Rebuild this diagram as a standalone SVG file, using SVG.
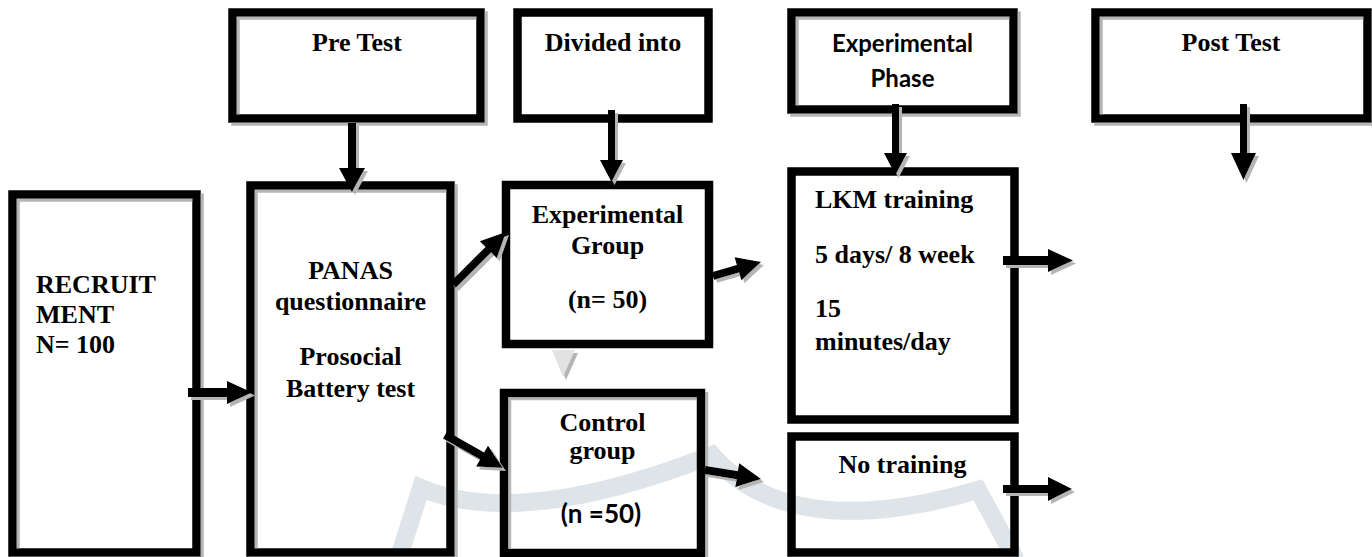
<svg xmlns="http://www.w3.org/2000/svg" width="1372" height="557" viewBox="0 0 1372 557">
<style>
.box{fill:none;stroke:#000;stroke-width:8.5;stroke-linejoin:miter}
.t{font-family:"Liberation Serif","Times New Roman",serif;font-weight:bold;font-size:26px;fill:#000}
.s{font-family:Lato,"Open Sans",sans-serif;font-weight:bold;font-size:24px;fill:#000}
.m{text-anchor:middle}
.arr{fill:#000}
.wm{fill:none;stroke:#dee4e7;stroke-width:18;stroke-linejoin:miter}
</style>
<defs>
<filter id="sh" filterUnits="userSpaceOnUse" x="0" y="0" width="1372" height="557">
<feDropShadow dx="3" dy="3" stdDeviation="0" flood-color="#b5b5b5" flood-opacity="1"/>
</filter>
</defs>
<rect width="1372" height="557" fill="#fff"/>
<path class="wm" d="M398,560 L421,488 Q520,530 712,455 Q790,545 978,490 L1016,560"/>

<g id="recruit">
<rect class="box" x="12.5" y="194.5" width="184" height="358" filter="url(#sh)"/>
<text class="t" x="36" y="293">RECRUIT</text>
<text class="t" x="36" y="323">MENT</text>
<text class="t" x="36" y="353">N= 100</text>
</g>
<g id="panas">
<rect class="box" x="250.5" y="185.5" width="200" height="367" filter="url(#sh)"/>
<text class="t m" x="350.5" y="279">PANAS</text>
<text class="t m" x="350.5" y="310">questionnaire</text>
<text class="t m" x="350.5" y="365">Prosocial</text>
<text class="t m" x="350.5" y="397">Battery test</text>
</g>
<g id="pretest">
<rect class="box" x="232.5" y="12.5" width="248" height="106" filter="url(#sh)"/>
<text class="t m" x="357" y="51">Pre Test</text>
</g>
<g id="divided">
<rect class="box" x="517.5" y="12.5" width="191" height="106"/>
<text class="t m" x="613" y="51">Divided into</text>
</g>
<g id="expphase">
<rect class="box" x="791.5" y="12.5" width="222" height="97" filter="url(#sh)"/>
<text class="s m" x="902.5" y="52">Experimental</text>
<text class="s m" x="902.5" y="87">Phase</text>
</g>
<g id="posttest">
<rect class="box" x="1095.5" y="12.5" width="272" height="106" filter="url(#sh)"/>
<text class="t m" x="1231" y="51">Post Test</text>
</g>
<g id="expgroup">
<rect class="box" x="506" y="185" width="203" height="159"/>
<text class="t m" x="607.5" y="223">Experimental</text>
<text class="t m" x="607.5" y="254">Group</text>
<text class="t m" x="607.5" y="308">(n= 50)</text>
</g>
<g id="control">
<rect class="box" x="504" y="393" width="197" height="160" filter="url(#sh)"/>
<text class="t m" x="602.5" y="431">Control</text>
<text class="t m" x="602.5" y="459">group</text>
<text class="s m" x="601" y="523" style="font-size:26px">(n =50)</text>
</g>
<g id="lkm">
<rect class="box" x="791.5" y="171.5" width="223" height="248"/>
<text class="t" x="815" y="208">LKM training</text>
<text class="t" x="815" y="263">5 days/ 8 week</text>
<text class="t" x="815" y="317">15</text>
<text class="t" x="815" y="350">minutes/day</text>
</g>
<g id="notraining">
<rect class="box" x="791.5" y="436.5" width="223" height="116"/>
<text class="t m" x="902.5" y="473">No training</text>
</g>

<g id="connectors" filter="url(#sh)">
<polygon class="arr" points="188,388 227,388 227,381 252,392.5 227,404 227,397 188,397"/>
<polygon class="arr" points="348,123 356,123 356,168 365,168 352,192 339,168 348,168"/>
<polygon class="arr" points="608,110 615,110 615,160 623,160 611.5,182 600,160 608,160"/>
<polygon class="arr" points="892,104 899,104 899,153 907,153 895.5,175 884,153 892,153"/>
<polygon class="arr" points="1240,104 1247,104 1247,153 1256,153 1243.5,180 1231,153 1240,153"/>
<polygon class="arr" points="450.2,282.2 485.5,246.9 479.8,241.2 506,232 496.8,258.2 491.1,252.5 455.8,287.8"/>
<polygon class="arr" points="711.9,272.2 736.9,264.9 734.6,257.2 761,262 741.4,280.2 739.1,272.5 714.1,279.8"/>
<polygon class="arr" points="447,431.5 484.1,452.6 488,445.7 503,468 476.2,466.5 480.1,459.6 443,438.5"/>
<polygon class="arr" points="705.6,466 737.9,471.2 739.2,463.3 761,479 735.4,487.1 736.7,479.2 704.4,474"/>
<polygon class="arr" points="1003,256 1048,256 1048,249 1073,260.5 1048,272 1048,265 1003,265"/>
<polygon class="arr" points="1003,485 1048,485 1048,477 1072,489 1048,501 1048,493 1003,493"/>
<polygon points="552,350 575,350 563,377" fill="#e2e2e2"/>
</g>
</svg>
